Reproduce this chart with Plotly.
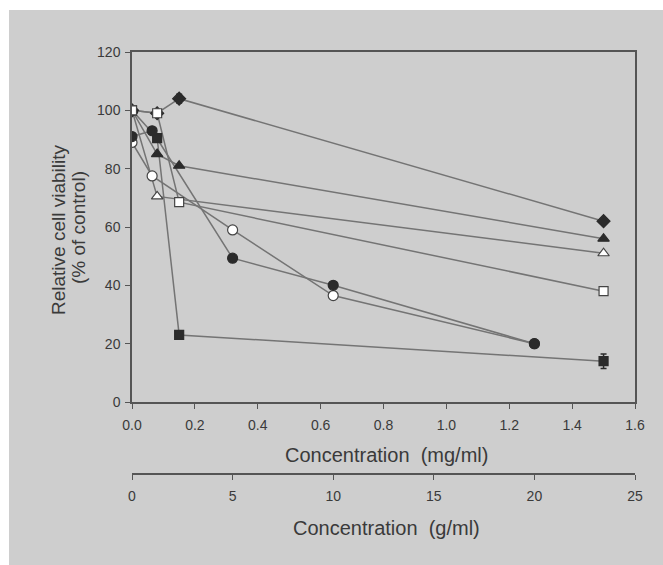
import plotly.graph_objects as go

# ---- data (concentration in mg/ml, viability in % of control) ----
conc_diamond = [0, 0.08, 0.15, 1.5]
via_diamond = [100, 99, 104, 62]
err_diamond = [0, 0, 1.5, 0]

conc_tri_filled = [0, 0.08, 0.15, 1.5]
via_tri_filled = [100, 85, 81, 56]

conc_tri_open = [0, 0.08, 1.5]
via_tri_open = [100, 70.5, 51]

conc_sq_open = [0, 0.08, 0.15, 1.5]
via_sq_open = [100, 99, 68.5, 38]

conc_sq_filled = [0, 0.08, 0.15, 1.5]
via_sq_filled = [100, 90.5, 23, 14]
err_sq_filled = [0, 0, 0.8, 2.5]

conc_circle = [0, 0.064, 0.32, 0.64, 1.28]
via_circle_filled = [91, 93, 49.3, 40, 20]
via_circle_open = [89, 77.5, 59, 36.5, 20]

x_ticks_mg = [0, 0.2, 0.4, 0.6, 0.8, 1.0, 1.2, 1.4, 1.6]
x_ticks_g = [0, 5, 10, 15, 20, 25]
y_ticks = [0, 20, 40, 60, 80, 100, 120]

LINE = "#747474"
DARK = "#2b2b2b"
TXT = "#3a3a3a"
BG = "#cecece"
FONT = "Liberation Sans, Arial, sans-serif"

series = [
    # name, x, y, symbol, filled, size, error
    ("circle-open", conc_circle, via_circle_open, "circle", False, 10, None),
    ("tri-open", conc_tri_open, via_tri_open, "triangle-up", False, 10, None),
    ("diamond", conc_diamond, via_diamond, "diamond", True, 10, err_diamond),
    ("tri-filled", conc_tri_filled, via_tri_filled, "triangle-up", True, 10, None),
    ("sq-filled", conc_sq_filled, via_sq_filled, "square", True, 9, err_sq_filled),
    ("circle-filled", conc_circle, via_circle_filled, "circle", True, 10, None),
    ("sq-open", conc_sq_open, via_sq_open, "square", False, 9, None),
]

fig = go.Figure()

# connecting lines first
for name, xs, ys, sym, filled, size, err in series:
    fig.add_trace(go.Scatter(x=xs, y=ys, mode="lines",
                             line=dict(color=LINE, width=1.5),
                             showlegend=False, hoverinfo="skip"))

# markers on top
for name, xs, ys, sym, filled, size, err in series:
    kw = {}
    if err is not None:
        kw["error_y"] = dict(type="data", array=err, visible=True,
                             color=DARK, thickness=1.5, width=3)
    fig.add_trace(go.Scatter(
        x=xs, y=ys, mode="markers", name=name, showlegend=False,
        marker=dict(symbol=sym, size=size,
                    color=DARK if filled else "white",
                    line=dict(color=DARK if filled else "#444444", width=1.2)),
        **kw))

# dummy trace for the secondary (g/ml) axis
fig.add_trace(go.Scatter(x=[0, 25], y=[None, None], xaxis="x2", yaxis="y",
                         mode="markers", showlegend=False, hoverinfo="skip"))

W, H = 663, 565
L, R, T, B = 132, 28, 52, 91
plot_h = H - T - B          # 422
plot_w = W - L - R          # 503
y_bottom_px = 402
dom0 = (H - B - y_bottom_px) / plot_h

def px_x(p):
    return (p - L) / plot_w

def px_y(p):
    return (H - B - p) / plot_h

axis_common = dict(showline=True, linecolor="#555555", linewidth=1.5,
                   ticks="outside", ticklen=5, tickwidth=1.3, tickcolor="#555555",
                   showgrid=False, zeroline=False,
                   tickfont=dict(family=FONT, size=14, color=TXT))

fig.update_layout(
    width=W, height=H,
    margin=dict(l=L, r=R, t=T, b=B, pad=0),
    paper_bgcolor="white",
    plot_bgcolor="rgba(0,0,0,0)",
    font=dict(family=FONT, color=TXT),
    xaxis=dict(range=[0, 1.6], tickvals=x_ticks_mg, tickformat=".1f",
               anchor="y", mirror=True, ticklabelstandoff=4, **axis_common),
    xaxis2=dict(range=[0, 25], tickvals=x_ticks_g, overlaying="x",
                anchor="free", position=0, side="bottom",
                ticklabelstandoff=4, **axis_common),
    yaxis=dict(range=[0, 120], tickvals=y_ticks, domain=[dom0, 1],
               mirror=True, ticklabelstandoff=2, **axis_common),
    shapes=[dict(type="rect", xref="paper", yref="paper", layer="below",
                 x0=px_x(9), x1=px_x(W + 5), y0=px_y(H + 5), y1=px_y(10),
                 fillcolor=BG, line=dict(width=0))],
    annotations=[
        dict(text="Concentration\u00a0\u00a0(mg/ml)", xref="paper", yref="paper",
             x=px_x(386), y=px_y(455), xanchor="center", yanchor="middle",
             showarrow=False, font=dict(family=FONT, size=20, color=TXT)),
        dict(text="Concentration\u00a0\u00a0(g/ml)", xref="paper", yref="paper",
             x=px_x(386), y=px_y(528), xanchor="center", yanchor="middle",
             showarrow=False, font=dict(family=FONT, size=20, color=TXT)),
        dict(text="Relative cell viability", xref="paper", yref="paper",
             x=px_x(58), y=px_y(230), xanchor="center", yanchor="middle",
             textangle=-90, showarrow=False,
             font=dict(family=FONT, size=19, color=TXT)),
        dict(text="(% of control)", xref="paper", yref="paper",
             x=px_x(78), y=px_y(228), xanchor="center", yanchor="middle",
             textangle=-90, showarrow=False,
             font=dict(family=FONT, size=19, color=TXT)),
    ],
)

fig.write_html("out.html")
